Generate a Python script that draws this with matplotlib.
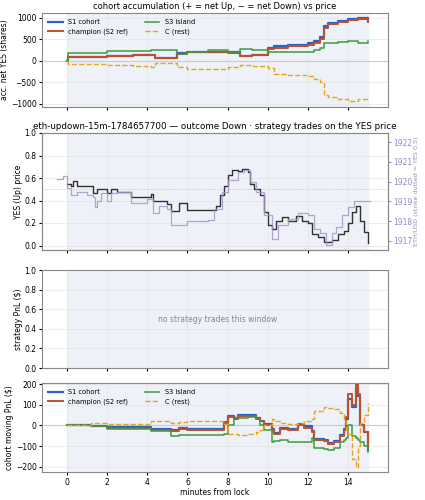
import matplotlib
matplotlib.use("Agg")
import matplotlib.pyplot as plt
import numpy as np

# ---- panel 1: accumulated net YES shares
acc_t = [0, 0.05, 2.0, 3.3, 4.2, 4.4, 5.5, 6.0, 7.0, 8.0, 8.6, 9.2, 10.0, 10.3, 11.0, 12.0, 12.3, 12.6, 12.8, 13.0, 13.5, 14.0, 14.5, 15.0]
acc_s1 = [0, 90, 110, 120, 140, 60, 170, 200, 210, 190, 110, 120, 300, 340, 370, 400, 450, 550, 800, 880, 920, 960, 990, 920]
acc_ch = [0, 80, 100, 120, 140, 50, 160, 190, 200, 180, 100, 120, 270, 300, 330, 360, 400, 500, 750, 850, 900, 950, 970, 900]
acc_s3 = [0, 170, 220, 230, 240, 240, 150, 200, 240, 200, 270, 240, 200, 200, 190, 190, 250, 300, 400, 420, 430, 460, 420, 460]
acc_c = [0, -80, -100, -120, -150, -60, -150, -200, -190, -150, -100, -130, -170, -300, -330, -350, -420, -500, -800, -850, -900, -930, -900, -950]

# ---- panel 2: YES price and ETH
yes_t = [0, 0.2, 0.3, 0.5, 1.2, 1.3, 1.5, 2.0, 2.2, 2.5, 3.2, 4.2, 4.3, 5.0, 5.2, 5.6, 6.0, 7.0, 7.4, 7.6, 7.8, 8.0, 8.2, 8.5, 8.7, 9.0, 9.1, 9.3, 9.6, 9.8, 10.0, 10.2, 10.4, 10.7, 11.0, 11.4, 11.7, 12.0, 12.2, 12.5, 12.8, 13.2, 13.5, 13.8, 14.0, 14.2, 14.4, 14.6, 14.8, 15.0]
yes_p = [0.55, 0.53, 0.57, 0.53, 0.53, 0.47, 0.50, 0.47, 0.50, 0.48, 0.43, 0.46, 0.40, 0.37, 0.31, 0.38, 0.32, 0.32, 0.35, 0.45, 0.53, 0.63, 0.67, 0.66, 0.68, 0.65, 0.55, 0.50, 0.45, 0.30, 0.18, 0.15, 0.22, 0.25, 0.22, 0.26, 0.22, 0.20, 0.10, 0.08, 0.03, 0.05, 0.10, 0.13, 0.20, 0.30, 0.35, 0.22, 0.12, 0.02]
eth_t = [-0.5, -0.2, 0, 0.2, 0.5, 1.0, 1.3, 1.4, 1.5, 1.7, 2.0, 2.2, 2.5, 3.0, 3.2, 4.0, 4.3, 4.6, 5.0, 5.2, 6.0, 7.0, 7.3, 7.7, 8.0, 8.5, 8.8, 9.1, 9.4, 9.8, 10.2, 10.5, 11.0, 11.5, 12.0, 12.3, 12.6, 12.9, 13.2, 13.4, 13.7, 14.0, 14.3, 15.1]
eth_p = [1920.15, 1920.3, 1919.7, 1919.3, 1919.5, 1919.3, 1919.2, 1918.7, 1919.0, 1919.4, 1919.0, 1919.4, 1919.5, 1919.45, 1918.9, 1919.1, 1918.4, 1918.75, 1918.6, 1917.8, 1918.0, 1918.05, 1918.6, 1919.5, 1920.1, 1920.5, 1920.6, 1920.0, 1919.5, 1918.3, 1917.1, 1917.8, 1918.1, 1918.4, 1918.3, 1917.6, 1917.4, 1916.8, 1917.4, 1917.7, 1918.3, 1918.7, 1919.0, 1919.0]

# ---- panel 4: moving PnL
pnl_t = [0, 1.2, 2.0, 4.2, 5.2, 5.6, 6.0, 7.8, 8.0, 8.3, 8.5, 9.0, 9.4, 9.6, 9.8, 10.2, 10.3, 10.6, 11.0, 11.5, 11.8, 12.2, 12.3, 12.8, 13.0, 13.3, 13.6, 13.8, 13.9, 14.0, 14.2, 14.4, 14.5, 14.6, 14.8, 15.0]
pnl_s1 = [0, -3, -8, -18, -22, -12, -18, 15, 45, 35, 50, 48, 35, 22, 5, -15, -35, -10, -15, 5, -5, -25, -65, -70, -85, -75, -45, -15, 30, 130, 90, 180, 140, 0, -30, -120]
pnl_ch = [0, -5, -10, -20, -25, -15, -20, 10, 40, 30, 45, 45, 30, 20, 0, -20, -40, -15, -20, 0, -10, -30, -70, -75, -90, -80, -50, -20, 40, 150, 100, 200, 150, 0, -30, -110]
pnl_s3 = [0, -5, -15, -25, -50, -45, -45, -40, 0, 35, 38, 40, 30, 0, -20, -80, -75, -70, -80, -80, -80, -60, -110, -115, -120, -110, -80, -70, -60, 0, -50, -60, -70, -80, -100, -130]
pnl_c = [0, 10, 5, 20, 10, 15, 20, 5, -40, -42, -45, -40, -30, -20, 0, 30, 20, 10, 5, 10, 20, 30, 70, 90, 85, 80, 60, 20, -20, -40, -160, -200, -100, 10, 50, 110]

C_S1, C_CH, C_S3, C_C = "#2a62c4", "#c0502a", "#3c9a42", "#e3a51b"
SPAN = "#eef1f8"

fig = plt.figure(figsize=(4.25, 5.0), dpi=100)
L, W = 0.099, 0.814
ax1 = fig.add_axes([L, 0.786, W, 0.188])
ax2 = fig.add_axes([L, 0.500, W, 0.234])
ax3 = fig.add_axes([L, 0.264, W, 0.196])
ax4 = fig.add_axes([L, 0.056, W, 0.178])

TS = 5.5
for ax in (ax1, ax2, ax3, ax4):
    ax.axvspan(0, 15, color=SPAN, zorder=0)
    ax.set_xlim(-1.25, 16.0)
    ax.set_xticks(range(0, 16, 2))
    ax.grid(True, color="#e4e4e4", lw=0.5, zorder=0)
    ax.tick_params(labelsize=TS, length=2.5, pad=1.5)
    for s in ax.spines.values():
        s.set_color("#888")
    ax.set_axisbelow(True)
for ax in (ax1, ax2, ax3):
    ax.tick_params(labelbottom=False)

fs = 5.5
# panel 1
ax1.axhline(0, color="#ccc", lw=0.8)
ax1.step(acc_t, acc_s1, where="post", color=C_S1, lw=1.6, label="S1 cohort")
ax1.step(acc_t, acc_ch, where="post", color=C_CH, lw=1.4, label="champion (S2 ref)")
ax1.step(acc_t, acc_s3, where="post", color=C_S3, lw=1.1, label="S3 island")
ax1.step(acc_t, acc_c, where="post", color=C_C, lw=1.0, ls="--", label="C (rest)")
ax1.set_ylim(-1080, 1110)
ax1.set_yticks([-1000, -500, 0, 500, 1000])
ax1.set_ylabel("acc. net YES (shares)", fontsize=fs, labelpad=1)
ax1.set_title("cohort accumulation (+ = net Up, − = net Down) vs price", fontsize=6, pad=3)
ax1.legend(loc="upper left", ncol=2, fontsize=4.8, frameon=False, handlelength=2.2, columnspacing=2.5)

# panel 2
ax2.axhline(0.5, color="#bbb", lw=0.6, ls=":")
ax2.step(yes_t, yes_p, where="post", color="#333", lw=1.0)
ax2.set_ylim(-0.04, 1.0)
ax2.set_yticks([0, 0.2, 0.4, 0.6, 0.8, 1.0])
ax2.set_ylabel("YES (Up) price", fontsize=fs, labelpad=1)
ax2.set_title("eth-updown-15m-1784657700 — outcome Down · strategy trades on the YES price", fontsize=6.3, pad=3)
tw = ax2.twinx()
tw.step(eth_t, eth_p, where="post", color="#a597c9", lw=0.9, alpha=0.85)
tw.set_ylim(1916.53, 1922.47)
tw.set_yticks([1917, 1918, 1919, 1920, 1921, 1922])
tw.tick_params(labelsize=TS, colors="#9a86c2", length=2.5, pad=1.5)
tw.set_ylabel("ETH/USD (strike dotted = YES 0.5)", fontsize=4.6, color="#9a86c2", labelpad=1)
for s in tw.spines.values():
    s.set_color("#888")

# panel 3
ax3.set_ylim(0, 1.0)
ax3.set_yticks([0, 0.2, 0.4, 0.6, 0.8, 1.0])
ax3.set_ylabel("strategy PnL ($)", fontsize=fs, labelpad=1)
ax3.text(7.5, 0.5, "no strategy trades this window", ha="center", va="center", fontsize=5.5, color="#888")

# panel 4
ax4.axhline(0, color="#ccc", lw=0.8)
ax4.step(pnl_t, pnl_s1, where="post", color=C_S1, lw=1.6, label="S1 cohort")
ax4.step(pnl_t, pnl_ch, where="post", color=C_CH, lw=1.4, label="champion (S2 ref)")
ax4.step(pnl_t, pnl_s3, where="post", color=C_S3, lw=1.1, label="S3 island")
ax4.step(pnl_t, pnl_c, where="post", color=C_C, lw=1.0, ls="--", label="C (rest)")
ax4.set_ylim(-225, 205)
ax4.set_yticks([-200, -100, 0, 100, 200])
ax4.set_ylabel("cohort moving PnL ($)", fontsize=fs, labelpad=1)
ax4.set_xlabel("minutes from lock", fontsize=fs, labelpad=1)
ax4.legend(loc="upper left", ncol=2, fontsize=4.8, frameon=False, handlelength=2.2, columnspacing=2.5)

fig.savefig("out.png", dpi=100)
